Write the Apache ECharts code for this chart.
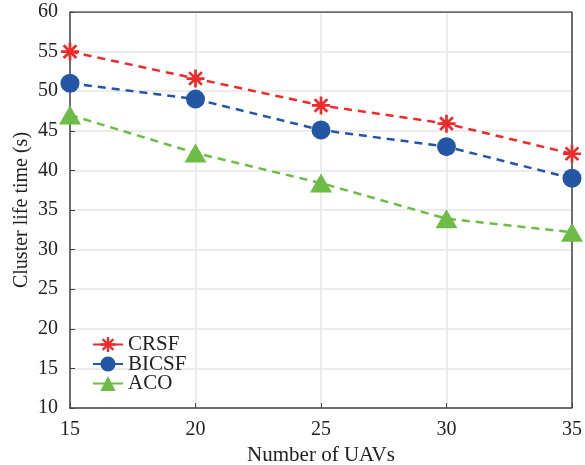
<!DOCTYPE html>
<html>
<head>
<meta charset="utf-8">
<script src="https://cdn.jsdelivr.net/npm/echarts@6/dist/echarts.min.js"></script>
<style>
  html, body { margin: 0; padding: 0; background: #fff; }
  #main { width: 585px; height: 465px; }
</style>
</head>
<body>
<div id="main"></div>
<script>
// x categories (number of UAVs)
var uavs = [15, 20, 25, 30, 35];
// cluster life time (s) per method
var crsf = [55, 51.6, 48.2, 45.9, 42.1];
var bicsf = [51, 49, 45.1, 43, 39];
var aco = [47, 42.2, 38.4, 33.9, 32.2];

var fontName = '"Liberation Serif", "DejaVu Serif", serif';

// asterisk marker: + and x spokes
var star = 'path://M0 8.5L20 8.5L20 11.5L0 11.5Z' +
  'M8.5 0L11.5 0L11.5 20L8.5 20Z' +
  'M3.99 1.87L18.13 16.01L16.01 18.13L1.87 3.99Z' +
  'M16.01 1.87L18.13 3.99L3.99 18.13L1.87 16.01Z';

function pairs(ys) {
  return ys.map(function (y, i) { return [uavs[i], y]; });
}

var myChart = echarts.init(document.getElementById('main'));

myChart.setOption({
  animation: false,
  grid: { left: 70, right: 13, top: 12, bottom: 57, containLabel: false, outerBoundsMode: 'none' },
  xAxis: {
    type: 'value',
    min: 15, max: 35, interval: 5,
    name: 'Number of UAVs',
    nameLocation: 'middle',
    nameGap: 34,
    nameTextStyle: { fontFamily: fontName, fontSize: 21, color: '#222' },
    axisLine: { lineStyle: { color: '#444', width: 1.5 } },
    axisTick: { inside: true, length: 5, lineStyle: { color: '#444' } },
    axisLabel: { fontFamily: fontName, fontSize: 20, color: '#222', margin: 12 },
    splitLine: { show: true, lineStyle: { color: '#e6e6e6', width: 1.5 } }
  },
  yAxis: {
    type: 'value',
    min: 10, max: 60, interval: 5,
    name: 'Cluster life time (s)',
    nameLocation: 'middle',
    nameGap: 38,
    nameMoveOverlap: false,
    nameTextStyle: { fontFamily: fontName, fontSize: 20, color: '#222' },
    axisLine: { lineStyle: { color: '#444', width: 1.5 } },
    axisTick: { inside: true, length: 5, lineStyle: { color: '#444' } },
    axisLabel: { fontFamily: fontName, fontSize: 20, color: '#222', margin: 12, padding: [5, 0, 0, 0] },
    splitLine: { show: true, lineStyle: { color: '#e6e6e6', width: 1.5 } }
  },
  legend: {
    left: 87, top: 329,
    orient: 'vertical',
    itemWidth: 30, itemHeight: 19, itemGap: -1.5,
    lineStyle: { type: 'solid' },
    textStyle: { fontFamily: fontName, fontSize: 21, lineHeight: 19, color: '#222' },
    data: ['CRSF', 'BICSF', 'ACO']
  },
  series: [
    {
      name: 'CRSF', type: 'line', data: pairs(crsf),
      symbol: star, symbolSize: 18,
      itemStyle: { color: '#ee2b2b' },
      lineStyle: { color: '#ee2b2b', width: 2.5, type: [8, 6] },
      z: 3
    },
    {
      name: 'BICSF', type: 'line', data: pairs(bicsf),
      symbol: 'circle', symbolSize: 19,
      itemStyle: { color: '#2456a6' },
      lineStyle: { color: '#2456a6', width: 2.5, type: [8, 6] },
      z: 2
    },
    {
      name: 'ACO', type: 'line', data: pairs(aco),
      symbol: 'triangle', symbolSize: [22, 19],
      itemStyle: { color: '#6cbc45' },
      lineStyle: { color: '#6cbc45', width: 2.5, type: [8, 6] },
      z: 1
    },
    // frame on top and right
    {
      type: 'line', data: [[15, 60], [35, 60], [35, 10]],
      symbol: 'none', silent: true,
      lineStyle: { color: '#444', width: 1.5 },
      z: 0
    }
  ]
});
</script>
</body>
</html>
